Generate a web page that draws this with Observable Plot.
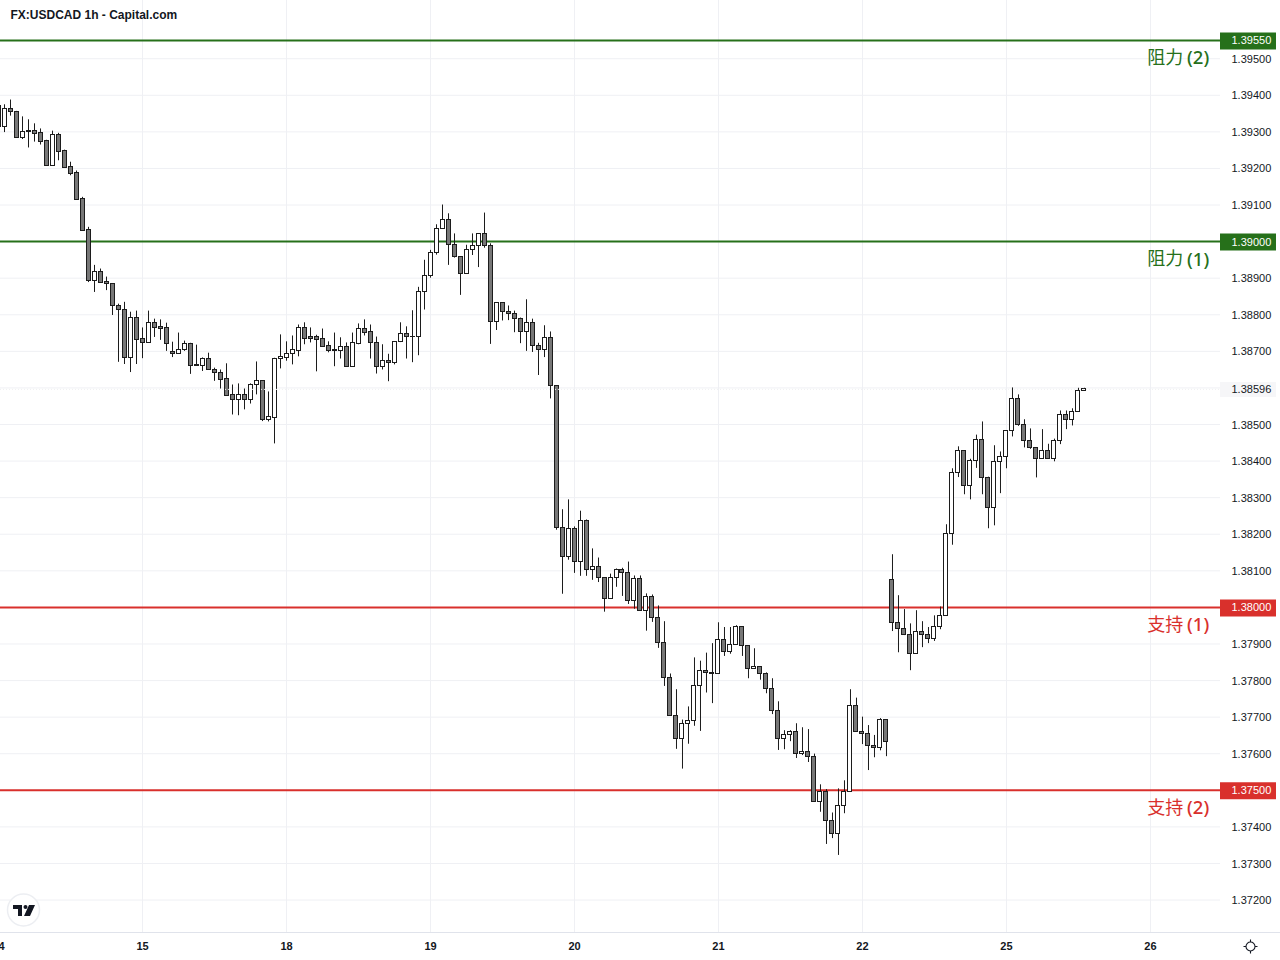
<!DOCTYPE html>
<html lang="zh">
<head>
<meta charset="utf-8">
<title>FX:USDCAD 1h - Capital.com</title>
<script src="https://cdn.jsdelivr.net/npm/d3@7"></script>
<script src="https://cdn.jsdelivr.net/npm/@observablehq/plot@0.6"></script>
<style>
html,body{margin:0;padding:0;background:#fff;overflow:hidden}
svg{display:block}
</style>
</head>
<body>
<div id="chart"></div>
<script>
const chartTitle = "FX:USDCAD 1h - Capital.com";
const firstIndex = -1;
const highs = [
1.39374,1.39374,1.39387,1.39356,1.39341,1.39333,1.39322,1.39308,1.39277,1.39302,
1.39296,1.39250,1.39217,1.39193,1.39121,1.39039,1.38935,1.38925,1.38903,1.38883,
1.38829,1.38834,1.38807,1.38810,1.38764,1.38810,1.38788,1.38786,1.38777,1.38725,
1.38750,1.38728,1.38722,1.38717,1.38682,1.38695,1.38654,1.38649,1.38666,1.38608,
1.38611,1.38597,1.38611,1.38671,1.38620,1.38589,1.38681,1.38745,1.38726,1.38742,
1.38772,1.38778,1.38764,1.38744,1.38761,1.38726,1.38750,1.38737,1.38723,1.38750,
1.38775,1.38786,1.38772,1.38739,1.38718,1.38692,1.38725,1.38778,1.38767,1.38811,
1.38875,1.38949,1.38976,1.39046,1.39100,1.39076,1.39021,1.38957,1.38990,1.39021,
1.39021,1.39078,1.38994,1.38832,1.38832,1.38824,1.38810,1.38791,1.38841,1.38788,
1.38722,1.38770,1.38753,1.38606,1.38267,1.38294,1.38220,1.38263,1.38239,1.38160,
1.38135,1.38080,1.38091,1.38105,1.38107,1.38124,1.38086,1.38086,1.38037,1.38034,
1.38004,1.37961,1.37818,1.37775,1.37692,1.37728,1.37862,1.37853,1.37875,1.37901,
1.37958,1.37945,1.37945,1.37950,1.37946,1.37894,1.37887,1.37837,1.37821,1.37805,
1.37742,1.37663,1.37663,1.37682,1.37671,1.37666,1.37599,1.37515,1.37502,1.37438,
1.37504,1.37526,1.37775,1.37752,1.37700,1.37677,1.37650,1.37696,1.37692,1.38144,
1.38032,1.37994,1.37955,1.37991,1.37961,1.37945,1.37977,1.38001,1.38226,1.38379,
1.38439,1.38427,1.38405,1.38471,1.38507,1.38356,1.38442,1.38425,1.38483,1.38600,
1.38581,1.38513,1.38488,1.38435,1.38486,1.38446,1.38460,1.38537,1.38537,1.38543,
1.38599,1.38599];
const lows = [
1.39314,1.39298,1.39343,1.39282,1.39279,1.39256,1.39272,1.39264,1.39208,1.39208,
1.39221,1.39202,1.39180,1.39115,1.39030,1.38888,1.38861,1.38888,1.38866,1.38798,
1.38670,1.38664,1.38642,1.38664,1.38680,1.38724,1.38738,1.38730,1.38700,1.38683,
1.38694,1.38700,1.38637,1.38661,1.38645,1.38648,1.38618,1.38597,1.38577,1.38526,
1.38524,1.38540,1.38556,1.38581,1.38508,1.38507,1.38447,1.38652,1.38673,1.38663,
1.38685,1.38718,1.38723,1.38644,1.38712,1.38696,1.38658,1.38679,1.38658,1.38658,
1.38718,1.38742,1.38679,1.38638,1.38649,1.38617,1.38663,1.38724,1.38679,1.38669,
1.38688,1.38813,1.38900,1.38963,1.39034,1.38935,1.38955,1.38853,1.38911,1.38962,
1.38929,1.38982,1.38719,1.38757,1.38783,1.38784,1.38751,1.38721,1.38700,1.38697,
1.38634,1.38683,1.38570,1.38211,1.38036,1.38129,1.38093,1.38085,1.38085,1.38074,
1.38068,1.37987,1.38023,1.38055,1.38030,1.38008,1.37995,1.37990,1.37935,1.37959,
1.37888,1.37784,1.37702,1.37612,1.37558,1.37626,1.37675,1.37661,1.37766,1.37737,
1.37817,1.37866,1.37872,1.37896,1.37866,1.37805,1.37832,1.37801,1.37764,1.37707,
1.37609,1.37611,1.37633,1.37587,1.37595,1.37576,1.37467,1.37440,1.37352,1.37368,
1.37322,1.37436,1.37496,1.37659,1.37625,1.37554,1.37589,1.37608,1.37592,1.37934,
1.37876,1.37923,1.37827,1.37873,1.37890,1.37901,1.37907,1.37939,1.37976,1.38170,
1.38355,1.38308,1.38294,1.38380,1.38308,1.38215,1.38223,1.38311,1.38379,1.38466,
1.38495,1.38436,1.38432,1.38354,1.38405,1.38405,1.38398,1.38445,1.38486,1.38496,
1.38534,1.38591];
const opens = [
1.39314,1.39314,1.39362,1.39355,1.39284,1.39301,1.39302,1.39296,1.39274,1.39208,
1.39291,1.39247,1.39203,1.39187,1.39116,1.39031,1.38891,1.38916,1.38889,1.38883,
1.38823,1.38812,1.38683,1.38791,1.38733,1.38724,1.38777,1.38766,1.38763,1.38698,
1.38694,1.38703,1.38720,1.38661,1.38661,1.38679,1.38649,1.38640,1.38624,1.38580,
1.38568,1.38580,1.38568,1.38607,1.38618,1.38511,1.38519,1.38679,1.38683,1.38692,
1.38702,1.38763,1.38739,1.38739,1.38733,1.38714,1.38703,1.38700,1.38711,1.38658,
1.38721,1.38760,1.38752,1.38722,1.38656,1.38673,1.38667,1.38725,1.38747,1.38740,
1.38738,1.38862,1.38905,1.38968,1.39034,1.39058,1.38990,1.38957,1.38911,1.38976,
1.38987,1.39020,1.38987,1.38780,1.38832,1.38807,1.38802,1.38788,1.38752,1.38777,
1.38714,1.38703,1.38736,1.38604,1.38217,1.38138,1.38214,1.38124,1.38236,1.38102,
1.38110,1.38080,1.38023,1.38080,1.38102,1.38094,1.38017,1.38078,1.37990,1.38028,
1.37971,1.37903,1.37807,1.37703,1.37640,1.37681,1.37690,1.37785,1.37825,1.37821,
1.37817,1.37911,1.37878,1.37896,1.37946,1.37894,1.37832,1.37837,1.37818,1.37777,
1.37717,1.37640,1.37651,1.37660,1.37599,1.37605,1.37591,1.37468,1.37496,1.37416,
1.37381,1.37457,1.37496,1.37731,1.37660,1.37654,1.37621,1.37616,1.37692,1.38075,
1.37957,1.37941,1.37925,1.37873,1.37933,1.37925,1.37914,1.37946,1.37976,1.38200,
1.38367,1.38427,1.38332,1.38400,1.38457,1.38353,1.38272,1.38397,1.38411,1.38482,
1.38569,1.38498,1.38455,1.38435,1.38405,1.38427,1.38405,1.38455,1.38526,1.38512,
1.38534,1.38591];
const closes = [
1.39371,1.39362,1.39355,1.39284,1.39299,1.39299,1.39295,1.39273,1.39208,1.39291,
1.39246,1.39202,1.39186,1.39115,1.39030,1.38891,1.38916,1.38888,1.38883,1.38823,
1.38812,1.38683,1.38791,1.38732,1.38724,1.38777,1.38765,1.38762,1.38721,1.38694,
1.38703,1.38720,1.38661,1.38662,1.38679,1.38648,1.38640,1.38623,1.38579,1.38568,
1.38580,1.38568,1.38607,1.38618,1.38511,1.38520,1.38679,1.38684,1.38692,1.38703,
1.38763,1.38735,1.38735,1.38732,1.38713,1.38702,1.38700,1.38711,1.38658,1.38722,
1.38760,1.38751,1.38722,1.38657,1.38673,1.38667,1.38725,1.38747,1.38738,1.38739,
1.38862,1.38905,1.38968,1.39034,1.39058,1.38990,1.38957,1.38911,1.38976,1.38987,
1.39020,1.38987,1.38780,1.38832,1.38807,1.38802,1.38788,1.38752,1.38777,1.38714,
1.38703,1.38736,1.38605,1.38217,1.38138,1.38214,1.38124,1.38236,1.38102,1.38110,
1.38080,1.38023,1.38080,1.38102,1.38094,1.38017,1.38078,1.37990,1.38028,1.37971,
1.37903,1.37807,1.37702,1.37640,1.37681,1.37689,1.37785,1.37826,1.37821,1.37817,
1.37911,1.37878,1.37897,1.37946,1.37894,1.37832,1.37837,1.37818,1.37777,1.37717,
1.37640,1.37651,1.37660,1.37599,1.37605,1.37591,1.37468,1.37496,1.37416,1.37381,
1.37457,1.37496,1.37731,1.37660,1.37654,1.37621,1.37616,1.37692,1.37632,1.37957,
1.37941,1.37925,1.37873,1.37933,1.37925,1.37914,1.37946,1.37976,1.38200,1.38367,
1.38427,1.38332,1.38400,1.38457,1.38353,1.38272,1.38397,1.38411,1.38482,1.38569,
1.38498,1.38455,1.38435,1.38405,1.38427,1.38405,1.38455,1.38526,1.38512,1.38534,
1.38591,1.38596];

const dayTicks = [-1,23,47,71,95,119,143,167,191];
const dayLabels = ["14","15","18","19","20","21","22","25","26"];
const gridPrices = [1.395,1.394,1.393,1.392,1.391,1.390,1.389,1.388,1.387,1.386,1.385,1.384,1.383,1.382,1.381,1.380,1.379,1.378,1.377,1.376,1.375,1.374,1.373,1.372];
const axisPrices = [1.395,1.394,1.393,1.392,1.391,1.389,1.388,1.387,1.385,1.384,1.383,1.382,1.381,1.379,1.378,1.377,1.376,1.374,1.373,1.372];
const levelPrices = [1.3955,1.39,1.38,1.375];
const levelWords = ["阻力","阻力","支持","支持"];
const levelRanks = ["(2)","(1)","(1)","(2)"];
const levelColors = ["#26701a","#26701a","#d9302c","#d9302c"];
const lastPrice = 1.38596;

const paneLeft = -0.667, paneRight = 202.667, pillEnd = 212, wordEnd = 196.45, rankStart = 197.1;
const priceBottom = 1.371113, priceTop = 1.396591;

const candles = opens.map((o,k)=>({i:k+firstIndex,open:o,close:closes[k],high:highs[k],low:lows[k]}));
const levels = levelPrices.map((p,k)=>({price:p,word:levelWords[k],rank:levelRanks[k],color:levelColors[k]}));

const font = "'Liberation Sans', Arial, sans-serif";
const plot = Plot.plot({
  width:1280,height:960,marginLeft:0,marginRight:60,marginTop:0,marginBottom:28,
  style:{background:"#fff",fontFamily:font,fontSize:"11px",color:"#131722"},
  x:{domain:[paneLeft,paneRight]},
  y:{domain:[priceBottom,priceTop]},
  marks:[
    Plot.gridX(dayTicks,{stroke:"#eff0f4",strokeOpacity:1}),
    Plot.gridY(gridPrices,{stroke:"#eff0f4",strokeOpacity:1}),
    Plot.ruleY([priceBottom],{x1:paneLeft,x2:pillEnd+2,stroke:"#e0e3eb"}),
    Plot.ruleY(levels,{y:"price",x1:paneLeft,x2:paneRight,stroke:"color",strokeWidth:2}),
    Plot.ruleX(candles,{x:"i",y1:"low",y2:"high",stroke:"#1c1c1c",strokeWidth:1}),
    Plot.rect(candles,{x1:d=>d.i-1/3,x2:d=>d.i+1/3,y1:"open",y2:"close",
      fill:d=>d.close>=d.open?"#ffffff":"#777777",stroke:"#1c1c1c",strokeWidth:1,shapeRendering:"crispEdges"}),
    Plot.ruleY([lastPrice],{x1:paneLeft,x2:paneRight,stroke:"#f0f0f2",strokeDasharray:"1 2"}),
    Plot.ruleY([lastPrice],{x1:paneRight,x2:pillEnd,stroke:"#f6f6f8",strokeWidth:15}),
    Plot.ruleY(levels,{y:"price",x1:paneRight,x2:pillEnd,stroke:"color",strokeWidth:17,dy:0.5}),
    Plot.axisY(axisPrices,{anchor:"right",label:null,tickSize:0,tickPadding:11,tickFormat:d=>d.toFixed(5),fill:"#131722",fontSize:11,dy:0.5}),
    Plot.axisX(dayTicks,{anchor:"bottom",label:null,tickSize:0,tickPadding:10,tickFormat:d=>dayLabels[dayTicks.indexOf(d)],fill:"#131722",fontSize:11,fontWeight:600}),
    Plot.text(levels,{x:()=>paneRight,y:"price",text:d=>d.price.toFixed(5),textAnchor:"start",dx:11,dy:0.5,fill:"#ffffff",fontSize:11}),
    Plot.text([lastPrice],{x:()=>paneRight,y:d=>d,text:d=>d.toFixed(5),textAnchor:"start",dx:11,dy:0.5,fill:"#131722",fontSize:11}),
    Plot.text(levels,{x:()=>wordEnd,y:"price",text:"word",fill:"color",textAnchor:"end",dy:18,fontSize:18,fontFamily:"'Noto Sans CJK SC'"}),
    Plot.text(levels,{x:()=>rankStart,y:"price",text:"rank",fill:"color",textAnchor:"start",dy:18,fontSize:18.5,fontWeight:500,fontFamily:"'Noto Sans'"}),
    Plot.text([chartTitle],{frameAnchor:"top-left",dx:10,dy:9.5,text:d=>d,fill:"#131722",fontSize:12,fontWeight:700,lineAnchor:"top"})
  ]
});
document.getElementById("chart").append(plot);

// decorative logo and settings icon
const svg = d3.select(plot);
const logo = svg.append("g");
logo.append("circle").attr("cx",23.5).attr("cy",910).attr("r",16).attr("fill","#fff").attr("stroke","#eceef2").attr("stroke-width",1.5);
logo.append("path").attr("fill","#131722").attr("d","M13 905h9v11h-4v-7h-5z M29 905h6l-5 11h-6z");
logo.append("circle").attr("cx",25.5).attr("cy",907).attr("r",2).attr("fill","#131722");
const gear = svg.append("g").attr("transform","translate(1250.5,946.5)").attr("fill","none").attr("stroke","#131722").attr("stroke-width",1.1);
gear.append("circle").attr("r",4.5);
gear.append("path").attr("d","M0 -7V-4.5 M0 4.5V7 M-7 0H-4.5 M4.5 0H7");
</script>
</body>
</html>
